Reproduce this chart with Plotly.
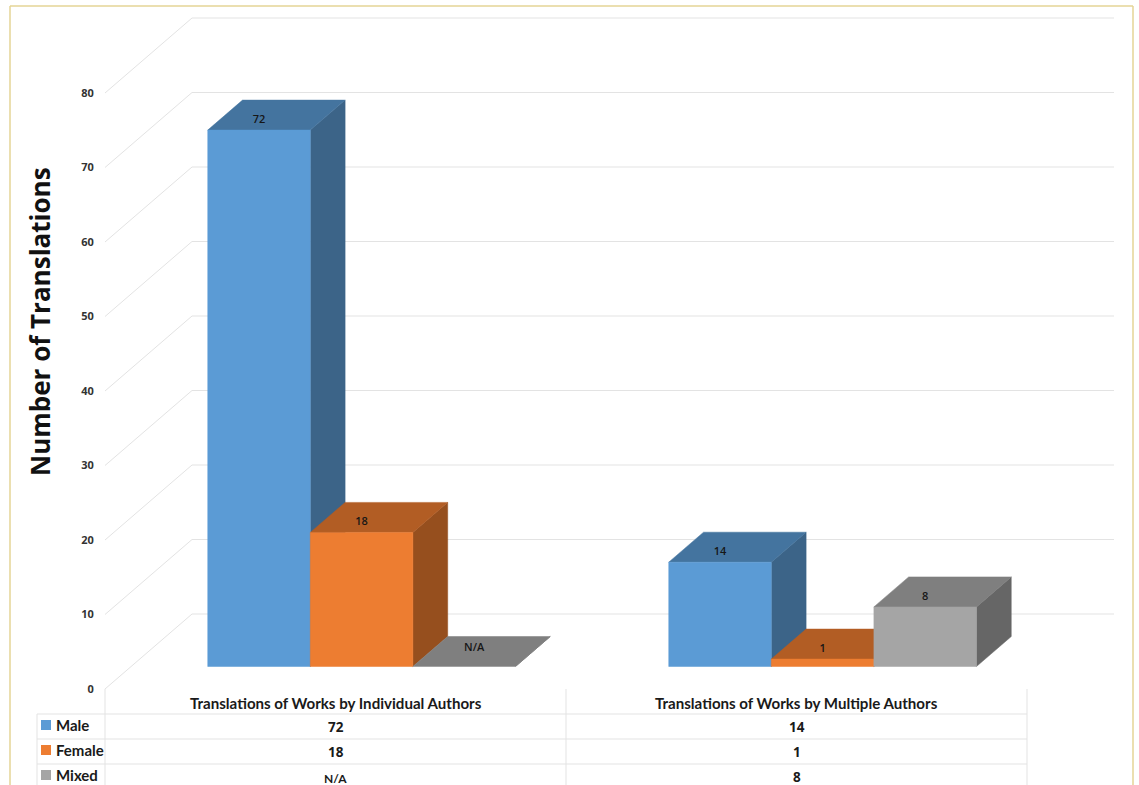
import plotly.graph_objects as go

# Chart data
categories = ["Translations of Works by Individual Authors", "Translations of Works by Multiple Authors"]
series_names = ["Male", "Female", "Mixed"]
male = [72, 14]
female = [18, 1]
mixed = [None, 8]
y_ticks = [0, 10, 20, 30, 40, 50, 60, 70, 80]

# Face colours per series: front, top, side
front_colors = ["#5b9bd5", "#ed7d31", "#a5a5a5"]
top_colors = ["#44749f", "#b25d24", "#7f7f7f"]
side_colors = ["#3c6488", "#964f1e", "#666666"]

W, H = 1139, 785
PLOT_L, PLOT_R, PLOT_T, PLOT_B = 105, 1114, 17, 689
PX_PER_CAT = 461.0
PX_PER_UNIT = 7.45

# Oblique projection: depth 1 is the back wall
DEPTH_X = 87 / PX_PER_CAT
DEPTH_Y = 75 / PX_PER_UNIT
BAR_FRONT = 0.30
BAR_BACK = 0.70
BAR_WIDTH = 0.2225


def project(x, v, depth):
    return x + depth * DEPTH_X, v + depth * DEPTH_Y


def px(x):
    return (x - PLOT_L) / (PLOT_R - PLOT_L)


def py(y):
    return (PLOT_B - y) / (PLOT_B - PLOT_T)


def polygon(points, color, name):
    xs = [p[0] for p in points] + [points[0][0]]
    ys = [p[1] for p in points] + [points[0][1]]
    return go.Scatter(x=xs, y=ys, mode="lines", fill="toself", fillcolor=color,
                      line=dict(color=color, width=0.5), name=name,
                      hoverinfo="name", showlegend=False, cliponaxis=False)


fig = go.Figure()

# Back wall and side wall gridlines
grid_x, grid_y = [], []
for t in y_ticks:
    a = project(0, t, 0)
    b = project(0, t, 1)
    c = project(2, t, 1)
    grid_x += [a[0], b[0], c[0], None]
    grid_y += [a[1], b[1], c[1], None]
fig.add_trace(go.Scatter(x=grid_x, y=grid_y, mode="lines", line=dict(color="#e3e3e3", width=1),
                         hoverinfo="skip", showlegend=False, cliponaxis=False))

# Boxes drawn back to front, left to right
series_values = [male, female, mixed]
label_x, label_y, label_text = [], [], []
for c in range(len(categories)):
    for s, values in enumerate(series_values):
        raw = values[c]
        v = 0 if raw is None else raw
        x0 = c + 0.5 + (s - 1.5) * BAR_WIDTH
        x1 = x0 + BAR_WIDTH
        name = f"{series_names[s]}: {'N/A' if raw is None else raw}"
        fig.add_trace(polygon([project(x1, 0, BAR_FRONT), project(x1, v, BAR_FRONT),
                               project(x1, v, BAR_BACK), project(x1, 0, BAR_BACK)],
                              side_colors[s], name))
        fig.add_trace(polygon([project(x0, v, BAR_FRONT), project(x1, v, BAR_FRONT),
                               project(x1, v, BAR_BACK), project(x0, v, BAR_BACK)],
                              top_colors[s], name))
        fig.add_trace(polygon([project(x0, 0, BAR_FRONT), project(x1, 0, BAR_FRONT),
                               project(x1, v, BAR_FRONT), project(x0, v, BAR_FRONT)],
                              front_colors[s], name))
        lx, ly = project((x0 + x1) / 2, v, BAR_FRONT)
        if raw is None:
            label_x.append(lx + 10 / PX_PER_CAT)
            label_y.append(ly + 18 / PX_PER_UNIT)
            label_text.append("N/A")
        else:
            label_x.append(lx)
            label_y.append(ly + 10 / PX_PER_UNIT)
            label_text.append(str(raw))

fig.add_trace(go.Scatter(x=label_x, y=label_y, mode="text", text=label_text,
                         textfont=dict(family="Open Sans", size=11, color="#161616", weight=600),
                         textposition="middle center", hoverinfo="skip", showlegend=False,
                         cliponaxis=False))

shapes = []
annotations = []


def hline(y, x0, x1, color="#e3e3e3", width=1):
    shapes.append(dict(type="line", xref="paper", yref="paper", x0=px(x0), x1=px(x1),
                       y0=py(y), y1=py(y), line=dict(color=color, width=width)))


def vline(x, y0, y1, color="#e3e3e3", width=1):
    shapes.append(dict(type="line", xref="paper", yref="paper", x0=px(x), x1=px(x),
                       y0=py(y0), y1=py(y1), line=dict(color=color, width=width)))


def text(x, y, s, size, anchor="center", weight=400, family="Lato", color="#1a1a1a"):
    annotations.append(dict(xref="paper", yref="paper", x=px(x), y=py(y), text=s, showarrow=False,
                            xanchor=anchor, yanchor="middle", align=anchor, borderpad=0,
                            font=dict(family=family, size=size, color=color, weight=weight)))


# Outer frame, open at the bottom of the page
frame = "#e4d596"
vline(10, 6, 785, frame, 1.5)
vline(1133, 6, 785, frame, 1.5)
hline(6, 10, 1133, frame, 1.5)

# Data table beneath the chart
ROW_Y = [714, 739, 764]
COL_X = [105, 566, 1027]
for y in ROW_Y:
    hline(y, 37, 1027)
vline(37, 714, 785)
for x in COL_X:
    vline(x, 689, 785)

for c, name in enumerate(categories):
    cx = (COL_X[c] + COL_X[c + 1]) / 2
    text(cx, 703, name, 15.1, weight=700)
    for r, values in enumerate(series_values):
        raw = values[c]
        if raw is None:
            text(cx, ROW_Y[r] + 14, "N/A", 12, weight=700)
        else:
            text(cx, ROW_Y[r] + 13, str(raw), 13.5, family="Open Sans", weight=700)

for r, name in enumerate(series_names):
    cy = ROW_Y[r] + 11
    shapes.append(dict(type="rect", xref="paper", yref="paper", x0=px(41), x1=px(51),
                       y0=py(cy - 5), y1=py(cy + 5), fillcolor=front_colors[r], line=dict(width=0)))
    text(55, cy, name, 15, anchor="left", weight=700)

# Rotated value-axis title
annotations.append(dict(xref="paper", yref="paper", x=px(40), y=py(322), text="Number of Translations",
                        showarrow=False, textangle=-90, xanchor="center", yanchor="middle",
                        font=dict(family="Open Sans", size=26, color="#111111", weight=700)))

fig.update_layout(
    width=W, height=H, autosize=False,
    margin=dict(l=PLOT_L, r=W - PLOT_R, t=PLOT_T, b=H - PLOT_B),
    paper_bgcolor="white", plot_bgcolor="white", showlegend=False,
    xaxis=dict(visible=False, range=[0, (PLOT_R - PLOT_L) / PX_PER_CAT], fixedrange=True),
    yaxis=dict(range=[0, (PLOT_B - PLOT_T) / PX_PER_UNIT], tickmode="array", tickvals=y_ticks,
               showgrid=False, zeroline=False, showline=False, ticks="outside", ticklen=8,
               tickcolor="rgba(0,0,0,0)", fixedrange=True,
               tickfont=dict(family="Open Sans", size=11, color="#333333", weight=700)),
    shapes=shapes, annotations=annotations,
)

fig.write_html("out.html", config={"displayModeBar": False})
